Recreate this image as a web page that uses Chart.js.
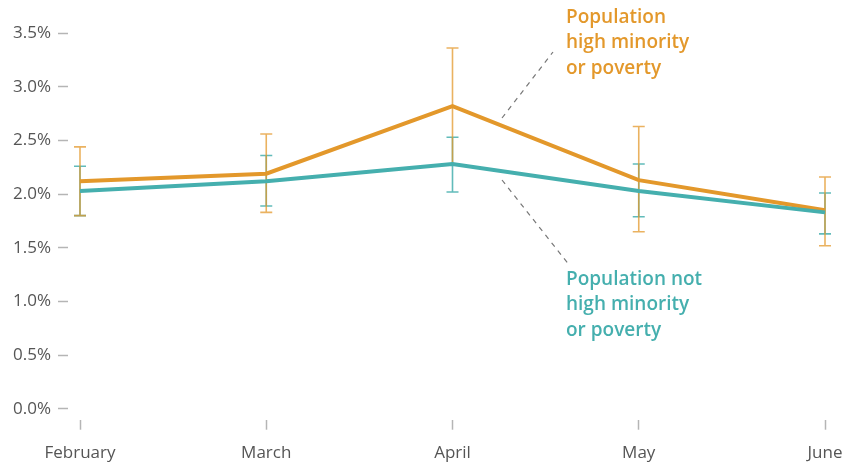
<!DOCTYPE html>
<html>
<head>
<meta charset="utf-8">
<script src="https://cdn.jsdelivr.net/npm/chart.js@4"></script>
<style>
  html, body { margin: 0; padding: 0; background: #fff; }
  #wrap { width: 856px; height: 463px; }
</style>
</head>
<body>
<div id="wrap"><canvas id="rateChart"></canvas></div>
<script>
// ============ DATA ============

const months = ['February', 'March', 'April', 'May', 'June'];
const yTicks = [0, 0.5, 1, 1.5, 2, 2.5, 3, 3.5];

const highMinority = [2.12, 2.19, 2.82, 2.13, 1.85];
const highMinorityLow = [1.80, 1.83, 2.28, 1.65, 1.52];
const highMinorityHigh = [2.44, 2.56, 3.36, 2.63, 2.16];

const notHighMinority = [2.03, 2.12, 2.28, 2.03, 1.83];
const notHighMinorityLow = [1.80, 1.89, 2.02, 1.79, 1.63];
const notHighMinorityHigh = [2.26, 2.36, 2.53, 2.28, 2.01];

const ORANGE = '#e3982b';
const TEAL = '#45afae';
const FONT = "'Open Sans', sans-serif";

// ============ PLUGINS ============

// error bars, drawn under the lines
const errorBars = {
  id: 'errorBars',
  beforeDatasetsDraw(chart) {
    const ctx = chart.ctx;
    const x = chart.scales.x;
    const y = chart.scales.y;
    const sets = [
      { low: notHighMinorityLow, high: notHighMinorityHigh, color: 'rgba(69, 175, 174, 0.85)' },
      { low: highMinorityLow, high: highMinorityHigh, color: 'rgba(227, 152, 43, 0.75)' }
    ];
    ctx.save();
    ctx.lineWidth = 1.6;
    sets.forEach(s => {
      ctx.strokeStyle = s.color;
      months.forEach((m, i) => {
        const px = x.getPixelForValue(i);
        const top = y.getPixelForValue(s.high[i]);
        const bot = y.getPixelForValue(s.low[i]);
        ctx.beginPath();
        ctx.moveTo(px, top);
        ctx.lineTo(px, bot);
        ctx.moveTo(px - 6, top);
        ctx.lineTo(px + 6, top);
        ctx.moveTo(px - 6, bot);
        ctx.lineTo(px + 6, bot);
        ctx.stroke();
      });
    });
    ctx.restore();
  }
};

// labels with dashed leader lines
const seriesLabels = {
  id: 'seriesLabels',
  afterDraw(chart) {
    const ctx = chart.ctx;
    ctx.save();
    ctx.strokeStyle = '#777';
    ctx.lineWidth = 1.2;
    ctx.setLineDash([5, 5]);
    ctx.beginPath();
    ctx.moveTo(502, 118);
    ctx.lineTo(553, 52);
    ctx.moveTo(502, 180);
    ctx.lineTo(570, 266);
    ctx.stroke();
    ctx.setLineDash([]);

    ctx.font = '600 19px ' + FONT;
    ctx.textBaseline = 'top';
    ctx.fillStyle = ORANGE;
    ['Population', 'high minority', 'or poverty'].forEach((t, i) => {
      ctx.fillText(t, 566, 8 + i * 25.5);
    });
    ctx.fillStyle = TEAL;
    ['Population not', 'high minority', 'or poverty'].forEach((t, i) => {
      ctx.fillText(t, 566, 270 + i * 25.5);
    });
    ctx.restore();
  }
};

// ============ CHART ============

new Chart(document.getElementById('rateChart'), {
  type: 'line',
  data: {
    labels: months,
    datasets: [
      {
        label: 'Population not high minority or poverty',
        data: notHighMinority,
        borderColor: TEAL,
        borderWidth: 4,
        pointRadius: 0,
        tension: 0
      },
      {
        label: 'Population high minority or poverty',
        data: highMinority,
        borderColor: ORANGE,
        borderWidth: 4,
        pointRadius: 0,
        tension: 0
      }
    ]
  },
  options: {
    responsive: true,
    maintainAspectRatio: false,
    animation: false,
    layout: { padding: { top: 33, right: 31, bottom: 0, left: 0 } },
    plugins: {
      legend: { display: false },
      tooltip: { enabled: false }
    },
    scales: {
      x: {
        offset: false,
        border: { display: false },
        grid: {
          drawOnChartArea: false,
          tickLength: 10,
          tickColor: '#b5b5b5',
          tickWidth: 1.5
        },
        ticks: {
          padding: 13,
          color: '#555',
          font: { family: FONT, size: 17 },
          maxRotation: 0
        },
        afterFit(scale) { scale.height = 43.3; }
      },
      y: {
        min: -0.1,
        max: 3.5,
        border: { display: false },
        afterBuildTicks(scale) {
          scale.ticks = yTicks.map(v => ({ value: v }));
        },
        grid: {
          drawOnChartArea: false,
          tickLength: 22,
          tickColor: '#b5b5b5',
          tickWidth: 1.5,
          tickBorderDash: [10, 40]
        },
        ticks: {
          padding: 7,
          color: '#555',
          font: { family: FONT, size: 17 },
          callback: v => v.toFixed(1) + '%'
        },
        afterFit(scale) { scale.width = 80; }
      }
    }
  },
  plugins: [errorBars, seriesLabels]
});
</script>
</body>
</html>
